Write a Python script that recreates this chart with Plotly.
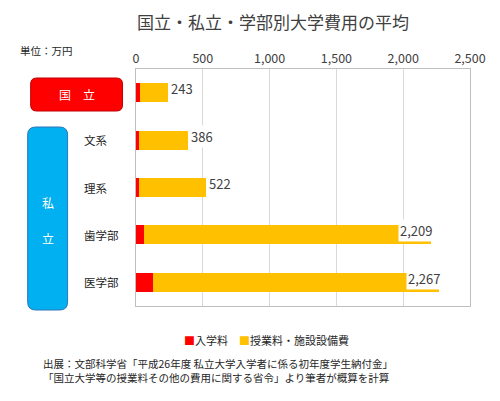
import plotly.graph_objects as go

# data (単位：万円)
categories = ["国立", "文系", "理系", "歯学部", "医学部"]
entrance_fee = [28, 25, 26, 62, 127]           # 入学料
tuition_fee = [215, 361, 496, 2147, 2140]      # 授業料・施設設備費
totals = [243, 386, 522, 2209, 2267]
total_labels = ["243", "386", "522", "2,209", "2,267"]
series_names = ["入学料", "授業料・施設設備費"]
series_colors = ["#FF0000", "#FFC000"]

font_jp = "Noto Sans CJK JP"
txt = "#404040"

fig = go.Figure()

for vals, name, col in zip([entrance_fee, tuition_fee], series_names, series_colors):
    fig.add_trace(go.Bar(
        y=categories, x=vals, orientation="h", name=name,
        marker=dict(color=col, line=dict(width=0)), showlegend=False,
    ))

# the page body has an 8px margin, so the figure is drawn 8px smaller
# and all positions below are given in window pixels
OFF = 8
W, H = 500 - OFF, 401 - OFF
L, R, T, B = 135.5, 470, 69, 306      # plot area in window pixels
pw, ph = R - L, B - T


def px(xp):
    return (xp - L) / pw


def py(yp):
    return (B - yp) / ph


def rounded_rect(x0, y0, x1, y1, r):
    # corners in pixels -> path in paper coords
    rx, ry = r / pw, r / ph
    a, b, c, d = px(x0), py(y1), px(x1), py(y0)
    return (f"M {a+rx},{b} L {c-rx},{b} Q {c},{b} {c},{b+ry} "
            f"L {c},{d-ry} Q {c},{d} {c-rx},{d} L {a+rx},{d} "
            f"Q {a},{d} {a},{d-ry} L {a},{b+ry} Q {a},{b} {a+rx},{b} Z")


shapes = [
    dict(type="path", xref="paper", yref="paper",
         path=rounded_rect(30, 78, 122, 111, 6),
         fillcolor="#FF0000", line=dict(color="#C00000", width=1)),
    dict(type="path", xref="paper", yref="paper",
         path=rounded_rect(27, 127, 67, 310, 8),
         fillcolor="#00B0F0", line=dict(color="#2E75B6", width=1)),
]

annotations = []

# value labels with white box at bar end
for cat, tot, lab in zip(categories, totals, total_labels):
    big = tot > 2000
    annotations.append(dict(
        x=tot, y=cat, xref="x", yref="y", text=lab, showarrow=False,
        xanchor="right" if big else "left", yanchor="middle",
        xshift=3 if big else 1, yshift=4,
        font=dict(size=13, color=txt, family=font_jp),
        bgcolor="white", borderpad=1,
    ))

# category labels for the private rows
for cat in categories[1:]:
    annotations.append(dict(
        x=px(81), y=cat, xref="paper", yref="y", text=cat, showarrow=False,
        xanchor="left", yanchor="middle",
        font=dict(size=11.5, color="#262626", family=font_jp),
    ))

# legend drawn as text
legend_text = "　".join(
    f'<span style="color:{c}">■</span>{n}' for n, c in zip(series_names, series_colors))


def note(x, y, text, size, color, anchor="center", align="center"):
    return dict(x=px(x), y=py(y), xref="paper", yref="paper", text=text,
                showarrow=False, xanchor=anchor, yanchor="middle", align=align,
                font=dict(size=size, color=color, family=font_jp))


annotations += [
    note(273, 21, "国立・私立・学部別大学費用の平均", 17, "#404040"),
    note(76, 94.5, "国　立", 12, "white"),
    note(47, 202, "私", 12, "white"),
    note(47, 238, "立", 12, "white"),
    note(17, 50, "単位：万円", 10.5, "#262626", anchor="left"),
    note(266, 340, legend_text, 11, "#262626"),
    note(40, 370,
         "出展：文部科学省「平成26年度 私立大学入学者に係る初年度学生納付金」<br>"
         "「国立大学等の授業料その他の費用に関する省令」より筆者が概算を計算",
         10.5, "#262626", anchor="left", align="left"),
]

fig.update_layout(
    width=W, height=H,
    margin=dict(l=L - OFF, r=W - (R - OFF), t=T - OFF, b=H - (B - OFF),
                pad=0, autoexpand=False),
    plot_bgcolor="white", paper_bgcolor="white",
    barmode="stack", bargap=0.6, showlegend=False,
    font=dict(family=font_jp, color=txt),
    xaxis=dict(
        side="top", range=[0, 2500], dtick=500, tickformat=",",
        showgrid=True, gridcolor="#D9D9D9", gridwidth=1, zeroline=False,
        showline=True, linecolor="#BFBFBF", linewidth=1, mirror=True,
        tickfont=dict(size=12.5, color=txt), ticks="", automargin=False,
    ),
    yaxis=dict(
        type="category", autorange="reversed", showticklabels=False,
        showgrid=False, showline=True, linecolor="#BFBFBF", linewidth=1,
        mirror=True, ticks="", automargin=False,
    ),
    shapes=shapes,
    annotations=annotations,
)

fig.write_html("out.html")
